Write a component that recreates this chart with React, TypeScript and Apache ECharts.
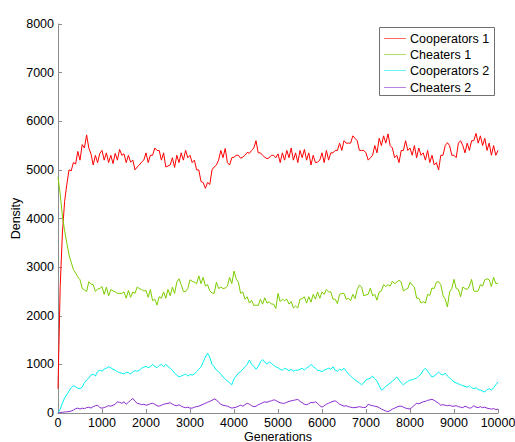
import React, { useEffect, useRef } from "react";
import * as echarts from "echarts";

const STEP = 50;
const seriesNames = ["Cooperators 1", "Cheaters 1", "Cooperators 2", "Cheaters 2"];
const seriesColors = ["#ff0000", "#7ccc00", "#00f0f0", "#8c2cd0"];

// Values every 50 generations, 0..10000
const cooperators1 = [
  500, 2600, 3700, 4350, 4700, 5000, 4980, 5150, 5120, 5380,
  5200, 5520, 5450, 5720, 5450, 5330, 5100, 5300, 5150, 5340,
  5400, 5200, 5350, 5150, 5300, 5130, 5340, 5200, 5420, 5300,
  5330, 5150, 5300, 5160, 5200, 5000, 5060, 5100, 5160, 5200,
  5350, 5150, 5300, 5300, 5450, 5400, 5400, 5200, 5350, 5060,
  5080, 5100, 5250, 5050, 5300, 5150, 5350, 5200, 5400, 5250,
  5300, 5150, 5200, 5000, 5000, 4760, 4740, 4620, 4740, 4700,
  5000, 5060, 5100, 5200, 5400, 5250, 5440, 5150, 5100, 5250,
  5260, 5300, 5300, 5240, 5260, 5300, 5360, 5340, 5400, 5450,
  5600, 5350, 5350, 5300, 5260, 5230, 5250, 5300, 5300, 5250,
  5330, 5150, 5350, 5200, 5400, 5250, 5450, 5200, 5350, 5150,
  5400, 5250, 5420, 5200, 5350, 5100, 5300, 5150, 5160, 5200,
  5350, 5150, 5400, 5200, 5350, 5350, 5400, 5400, 5550, 5400,
  5600, 5550, 5550, 5550, 5700, 5650, 5600, 5400, 5400, 5400,
  5350, 5200, 5250, 5300, 5500, 5350, 5650, 5500, 5700, 5550,
  5740, 5500, 5450, 5250, 5300, 5150, 5400, 5400, 5600, 5400,
  5450, 5300, 5500, 5250, 5450, 5300, 5350, 5200, 5400, 5150,
  5300, 5100, 5150, 5000, 5300, 5300, 5500, 5560, 5500, 5300,
  5300, 5250, 5550, 5600, 5500, 5350, 5550, 5400, 5600, 5600,
  5750, 5550, 5700, 5500, 5650, 5400, 5550, 5300, 5500, 5300,
  5400,
];

const cheaters1 = [
  4850, 4500, 4050, 3750, 3500, 3250, 3100, 2950, 2880, 2800,
  2740, 2560, 2530, 2500, 2700, 2650, 2640, 2500, 2550, 2560,
  2600, 2440, 2590, 2410, 2540, 2510, 2490, 2460, 2460, 2460,
  2490, 2360, 2520, 2380, 2490, 2460, 2590, 2560, 2540, 2510,
  2520, 2380, 2540, 2310, 2340, 2220, 2390, 2360, 2490, 2360,
  2540, 2410, 2590, 2460, 2690, 2760, 2640, 2500, 2500, 2560,
  2740, 2710, 2690, 2660, 2820, 2660, 2790, 2610, 2640, 2510,
  2470, 2460, 2690, 2560, 2590, 2560, 2570, 2610, 2790, 2660,
  2920, 2760, 2690, 2460, 2490, 2340, 2390, 2260, 2320, 2210,
  2220, 2210, 2340, 2240, 2370, 2260, 2290, 2240, 2240, 2150,
  2460, 2290, 2340, 2310, 2340, 2240, 2290, 2160, 2200, 2160,
  2340, 2350, 2390, 2260, 2390, 2280, 2440, 2340, 2490, 2360,
  2490, 2440, 2540, 2490, 2490, 2340, 2340, 2250, 2440, 2460,
  2460, 2340, 2360, 2310, 2440, 2350, 2540, 2630, 2590, 2410,
  2430, 2440, 2570, 2410, 2440, 2320, 2490, 2510, 2640, 2600,
  2640, 2610, 2710, 2660, 2690, 2730, 2690, 2510, 2540, 2560,
  2690, 2630, 2590, 2360, 2360, 2260, 2290, 2260, 2440, 2420,
  2570, 2560, 2690, 2700, 2640, 2420, 2340, 2180, 2490, 2560,
  2750, 2560, 2540, 2390, 2590, 2560, 2540, 2610, 2750, 2510,
  2500, 2510, 2640, 2610, 2740, 2760, 2740, 2600, 2790, 2660,
  2670,
];

const cooperators2 = [
  0, 80, 200, 310, 380, 450, 520, 560, 540, 510,
  500, 530, 620, 680, 720, 780, 800, 760, 850, 880,
  860, 900, 920, 950, 930, 900, 880, 850, 830, 820,
  800, 840, 830, 800, 850, 870, 860, 880, 920, 940,
  960, 930, 950, 1000, 960, 930, 980, 1000, 950, 1000,
  960, 920, 880, 820, 780, 740, 760, 780, 800, 760,
  790, 780, 800, 850, 900, 950, 1050, 1150, 1230, 1150,
  1000, 950, 880, 850, 800, 740, 700, 660, 620, 580,
  700, 760, 820, 850, 900, 950, 1000, 1090, 1000, 960,
  900, 950, 1050, 1100, 1050, 1000, 1050, 1020, 980, 950,
  930, 900, 880, 920, 900, 870, 900, 860, 880, 880,
  900, 920, 880, 930, 950, 1000, 950, 920, 880, 870,
  850, 880, 900, 920, 900, 950, 880, 860, 900, 880,
  920, 860, 800, 760, 720, 680, 650, 620, 580, 620,
  680, 700, 720, 760, 700, 660, 560, 470, 500, 550,
  580, 620, 650, 700, 740, 680, 620, 580, 620, 650,
  680, 680, 700, 720, 760, 800, 880, 920, 860, 800,
  740, 760, 800, 840, 800, 780, 820, 760, 720, 680,
  640, 620, 600, 580, 560, 550, 530, 560, 520, 500,
  520, 480, 470, 450, 430, 480, 500, 470, 520, 580,
  640,
];

const cheaters2 = [
  0, 10, 15, 20, 25, 30, 40, 60, 90, 100,
  80, 100, 90, 110, 120, 100, 130, 150, 160, 110,
  100, 110, 130, 150, 140, 160, 180, 230, 220, 200,
  230, 180, 220, 260, 300, 240, 200, 190, 170, 180,
  160, 170, 190, 200, 180, 150, 140, 160, 180, 190,
  200, 210, 180, 160, 150, 170, 140, 120, 110, 120,
  100, 100, 120, 130, 140, 160, 180, 200, 220, 240,
  260, 290, 270, 220, 180, 160, 150, 140, 120, 100,
  110, 120, 140, 160, 140, 170, 200, 180, 150, 130,
  140, 170, 190, 210, 230, 220, 240, 250, 270, 260,
  230, 210, 200, 200, 220, 240, 250, 260, 270, 280,
  240, 210, 180, 170, 190, 220, 210, 230, 200, 150,
  120, 150, 180, 200, 220, 240, 250, 220, 180, 160,
  140, 150, 130, 120, 110, 110, 120, 130, 120, 110,
  120, 180, 160, 150, 140, 130, 110, 80, 60, 40,
  30, 50, 80, 100, 120, 140, 140, 120, 100, 90,
  80, 120, 160, 200, 190, 210, 230, 240, 260, 270,
  280, 260, 230, 200, 160, 170, 160, 150, 160, 140,
  140, 150, 130, 120, 110, 140, 120, 100, 110, 150,
  120, 110, 130, 110, 120, 100, 90, 80, 90, 70,
  80,
];

const allSeries = [cooperators1, cheaters1, cooperators2, cheaters2];

const FONT = 'Arial, "Liberation Sans", sans-serif';

export default function App() {
  const ref = useRef<HTMLDivElement>(null);
  useEffect(() => {
    if (!ref.current) return;
    const chart = echarts.init(ref.current, null, { renderer: "svg" });
    const series = allSeries.map((vals, si) => ({
      name: seriesNames[si],
      type: "line",
      symbol: "none",
      showSymbol: false,
      data: vals.map((v, i) => [i * STEP, v]),
      lineStyle: { color: seriesColors[si], width: 1 },
      itemStyle: { color: seriesColors[si] },
      z: 2,
    }));

    // Legend box drawn as graphic
    const legendX = 379;
    const legendY = 27;
    const rowH = 16.3;
    const legendChildren: any[] = [
      {
        type: "rect",
        shape: { x: legendX + 0.5, y: legendY + 0.5, width: 115, height: 68 },
        style: { fill: "#ffffff", stroke: "#707070", lineWidth: 1 },
      },
    ];
    seriesNames.forEach((name, i) => {
      const cy = Math.round(legendY + 10.7 + i * rowH) + 0.5;
      legendChildren.push({
        type: "line",
        shape: { x1: legendX + 5, y1: cy, x2: legendX + 27, y2: cy },
        style: { stroke: seriesColors[i], lineWidth: 1, opacity: 0.6 },
      });
      legendChildren.push({
        type: "text",
        x: legendX + 31,
        y: cy,
        style: {
          text: name,
          fill: "#000",
          font: `12.5px ${FONT}`,
          verticalAlign: "middle",
          align: "left",
        },
      });
    });

    chart.setOption({
      animation: false,
      backgroundColor: "#ffffff",
      textStyle: { fontFamily: FONT },
      grid: {
        left: 58,
        right: 17,
        top: 24,
        bottom: 29,
        containLabel: false,
        outerBoundsMode: "none",
      },
      graphic: [{ type: "group", z: 100, children: legendChildren }],
      xAxis: {
        type: "value",
        min: 0,
        max: 10000,
        interval: 1000,
        name: "Generations",
        nameLocation: "middle",
        nameGap: 17,
        nameMoveOverlap: false,
        nameTextStyle: { fontFamily: FONT, fontSize: 12.5, color: "#000" },
        axisLine: { show: true, onZero: false, lineStyle: { color: "#8c8c8c", width: 1 } },
        axisTick: { show: true, inside: true, length: 4, lineStyle: { color: "#8c8c8c" } },
        axisLabel: {
          fontFamily: FONT,
          fontSize: 12.5,
          color: "#000",
          margin: 3,
          formatter: (v: number) => String(v),
        },
        splitLine: { show: false },
      },
      yAxis: {
        type: "value",
        min: 0,
        max: 8000,
        interval: 1000,
        name: "Density",
        nameLocation: "middle",
        nameGap: 36,
        nameMoveOverlap: false,
        nameTextStyle: { fontFamily: FONT, fontSize: 12.5, color: "#000" },
        axisLine: { show: true, lineStyle: { color: "#8c8c8c", width: 1 } },
        axisTick: { show: true, inside: true, length: 4, lineStyle: { color: "#8c8c8c" } },
        axisLabel: {
          fontFamily: FONT,
          fontSize: 12.5,
          color: "#000",
          margin: 4,
          formatter: (v: number) => String(v),
        },
        splitLine: { show: false },
      },
      series,
    });
    return () => chart.dispose();
  }, []);
  return (
    <div
      ref={ref}
      style={{ position: "fixed", left: 0, top: 0, width: 515, height: 442, background: "#fff" }}
    />
  );
}
